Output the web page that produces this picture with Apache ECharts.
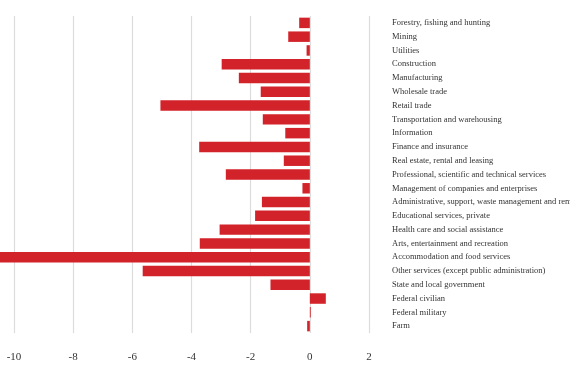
<!DOCTYPE html>
<html>
<head>
<meta charset="utf-8">
<script src="https://cdn.jsdelivr.net/npm/echarts@6/dist/echarts.min.js"></script>
<style>
html,body{margin:0;padding:0;background:#fff;}
#chart{width:570px;height:381px;}
</style>
</head>
<body>
<div id="chart"></div>
<script>
const categories = [
  "Forestry, fishing and hunting",
  "Mining",
  "Utilities",
  "Construction",
  "Manufacturing",
  "Wholesale trade",
  "Retail trade",
  "Transportation and warehousing",
  "Information",
  "Finance and insurance",
  "Real estate, rental and leasing",
  "Professional, scientific and technical services",
  "Management of companies and enterprises",
  "Administrative, support, waste management and remediation services",
  "Educational services, private",
  "Health care and social assistance",
  "Arts, entertainment and recreation",
  "Accommodation and food services",
  "Other services (except public administration)",
  "State and local government",
  "Federal civilian",
  "Federal military",
  "Farm"
];
const values = [
  -0.36, -0.73, -0.11, -2.98, -2.40, -1.66, -5.05, -1.59, -0.83, -3.74,
  -0.88, -2.84, -0.25, -1.62, -1.85, -3.05, -3.72, -10.7, -5.65, -1.33,
  0.54, 0.03, -0.09
];
const xTicks = { min: -10, max: 2, interval: 2 };

const chart = echarts.init(document.getElementById('chart'), null, {renderer: 'canvas'});
chart.setOption({
  animation: false,
  backgroundColor: '#ffffff',
  grid: { left: 14, right: 201, top: 16, bottom: 48, containLabel: false, outerBoundsMode: 'none' },
  xAxis: {
    type: 'value',
    min: xTicks.min, max: xTicks.max, interval: xTicks.interval,
    axisLine: { show: false },
    axisTick: { show: false },
    splitLine: { show: true, lineStyle: { color: '#dcdcdc', width: 1.2 } },
    axisLabel: { color: '#333', fontFamily: 'Liberation Serif', fontSize: 11, margin: 19 }
  },
  yAxis: {
    type: 'category',
    data: categories,
    inverse: true,
    position: 'right',
    axisLine: { show: false },
    axisTick: { show: false },
    splitLine: { show: false },
    axisLabel: { color: '#333', fontFamily: 'Liberation Serif', fontSize: 8.5, margin: 23, align: 'left' }
  },
  series: [{
    type: 'bar',
    data: values,
    barWidth: '76%',
    clip: false,
    itemStyle: { color: '#d3232a' }
  }]
});
</script>
</body>
</html>
